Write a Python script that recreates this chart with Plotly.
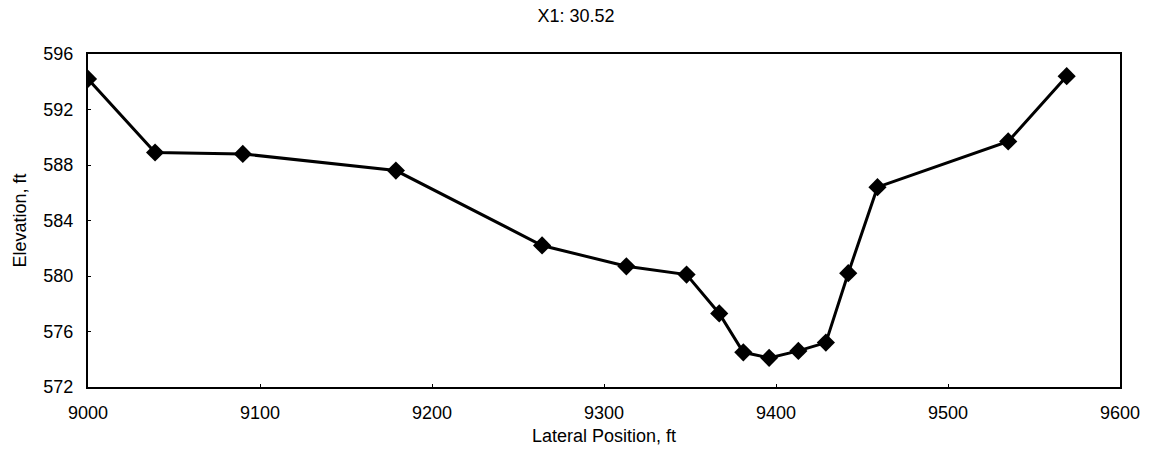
import plotly.graph_objects as go

# Cross-section survey points
lateral_ft = [9000, 9039, 9090, 9179, 9264, 9313, 9348, 9367, 9381, 9396, 9413, 9429, 9442, 9459, 9535, 9569]
elevation_ft = [594.2, 588.9, 588.8, 587.6, 582.2, 580.7, 580.1, 577.3, 574.5, 574.1, 574.6, 575.2, 580.2, 586.4, 589.7, 594.4]

x_ticks = [9000, 9100, 9200, 9300, 9400, 9500, 9600]
y_ticks = [572, 576, 580, 584, 588, 592, 596]

FONT = "Liberation Sans, Arial, sans-serif"

fig = go.Figure(
    go.Scatter(
        x=lateral_ft,
        y=elevation_ft,
        mode="lines+markers",
        line=dict(color="black", width=3),
        marker=dict(symbol="diamond", size=14, color="black"),
        showlegend=False,
    )
)

axis_common = dict(
    showgrid=False,
    zeroline=False,
    showline=True,
    linecolor="black",
    linewidth=2,
    mirror=True,
    ticks="inside",
    ticklen=3,
    tickcolor="black",
    tickfont=dict(family=FONT, size=18, color="black"),
)

fig.update_layout(
    width=1152,
    height=456,
    margin=dict(l=88, r=26, t=54, b=69),
    paper_bgcolor="white",
    plot_bgcolor="white",
    title=dict(
        text="X1: 30.52",
        x=0.5,
        xref="container",
        xanchor="center",
        y=1 - 16 / 456,
        yanchor="middle",
        font=dict(family=FONT, size=18, color="black"),
    ),
    xaxis=dict(
        range=[9000, 9600],
        tickvals=x_ticks,
        ticktext=[str(v) for v in x_ticks],
        ticklabelstandoff=8,
        title=dict(text="Lateral Position, ft", font=dict(family=FONT, size=18, color="black"), standoff=8),
        **axis_common,
    ),
    yaxis=dict(
        range=[572, 596],
        tickvals=y_ticks,
        ticktext=[str(v) for v in y_ticks],
        ticklabelstandoff=9,
        title=dict(text="Elevation, ft", font=dict(family=FONT, size=18, color="black"), standoff=12),
        **axis_common,
    ),
)

fig.write_html("out.html")
